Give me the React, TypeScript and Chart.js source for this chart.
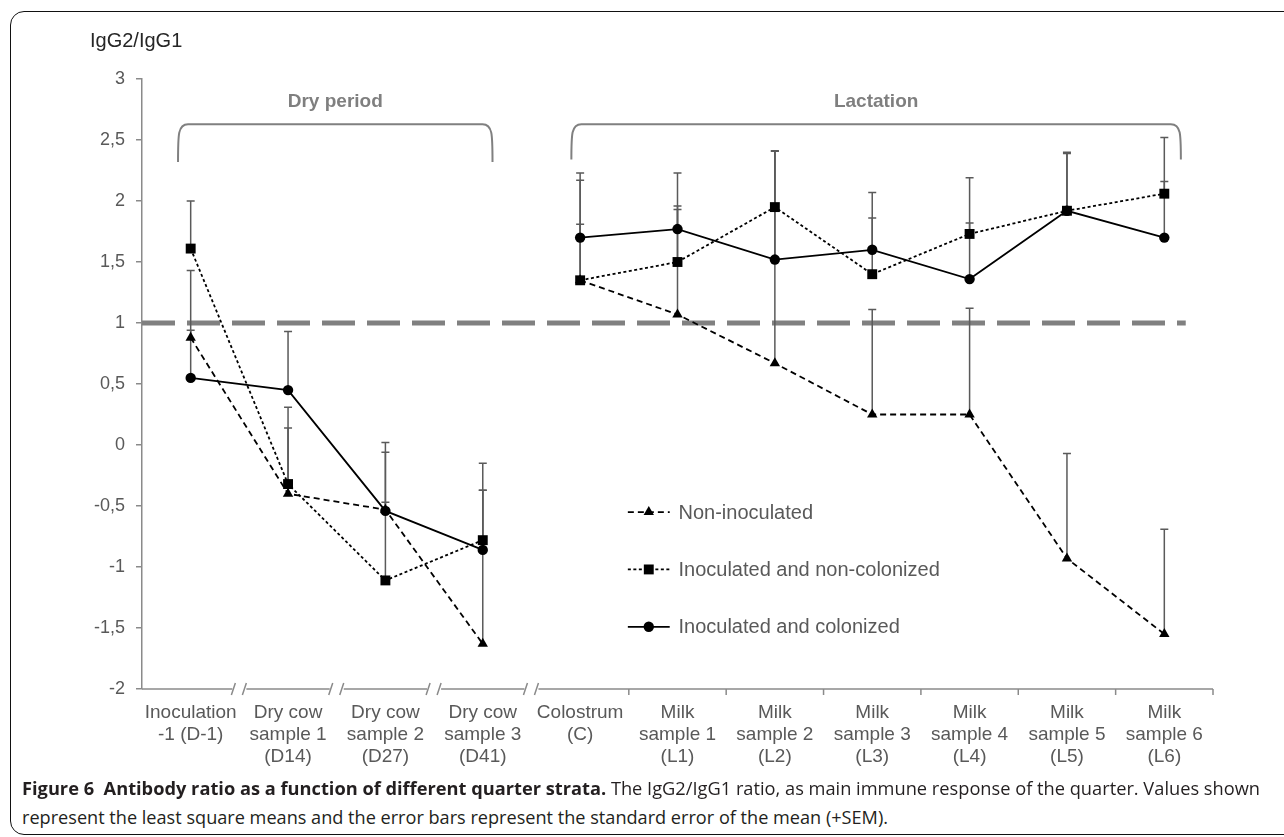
import React, { useEffect, useLayoutEffect, useRef } from "react";
import { Chart, registerables } from "chart.js";

Chart.register(...registerables);

// ---------- data ----------
const categories: string[][] = [
  ["Inoculation", "-1 (D-1)"],
  ["Dry cow", "sample 1", "(D14)"],
  ["Dry cow", "sample 2", "(D27)"],
  ["Dry cow", "sample 3", "(D41)"],
  ["Colostrum", "(C)"],
  ["Milk", "sample 1", "(L1)"],
  ["Milk", "sample 2", "(L2)"],
  ["Milk", "sample 3", "(L3)"],
  ["Milk", "sample 4", "(L4)"],
  ["Milk", "sample 5", "(L5)"],
  ["Milk", "sample 6", "(L6)"],
];

const seriesNames = ["Non-inoculated", "Inoculated and non-colonized", "Inoculated and colonized"];

const nonInoculated = [0.88, -0.4, -0.53, -1.63, 1.35, 1.07, 0.67, 0.25, 0.25, -0.93, -1.55];
const nonInoculatedTop = [1.43, 0.14, -0.06, -0.37, 2.17, 1.96, 2.41, 1.11, 1.12, -0.07, -0.69];

const inocNonColonized = [1.61, -0.32, -1.11, -0.78, 1.35, 1.5, 1.95, 1.4, 1.73, 1.92, 2.06];
const inocNonColonizedTop = [2.0, 0.31, -0.47, -0.15, 1.81, 1.93, 2.41, 1.86, 2.19, 2.4, 2.52];

const inocColonized = [0.55, 0.45, -0.54, -0.86, 1.7, 1.77, 1.52, 1.6, 1.36, 1.92, 1.7];
const inocColonizedTop = [0.94, 0.93, 0.02, -0.37, 2.23, 2.23, 2.41, 2.07, 1.82, 2.39, 2.16];

const yMin = -2;
const yMax = 3;
const yStep = 0.5;
const referenceValue = 1;
const breakAfterIndex = 3; // no line between D41 and Colostrum
const axisBreakBoundaries = [1, 2, 3, 4];

const periodLabels = ["Dry period", "Lactation"];
const periodFrom = [-0.13, 3.91];
const periodTo = [3.1, 10.17];

// ---------- styles ----------
const FONT = "'Liberation Sans', Arial, sans-serif";
const TICK_COLOR = "#595959";
const AXIS_COLOR = "#8a8a8a";
const ERR_COLOR = "#5a5a5a";
const pointStyles = ["triangle", "rect", "circle"];
const pointRadii = [6, 7, 5.2];
const dashes = [[6, 4], [3, 2.5], []];

const allTops = [nonInoculatedTop, inocNonColonizedTop, inocColonizedTop];

function drawMarker(ctx: CanvasRenderingContext2D, style: string, x: number, y: number, r: number) {
  ctx.beginPath();
  if (style === "triangle") {
    const a = (2 * Math.PI) / 3;
    ctx.moveTo(x, y - r);
    ctx.lineTo(x + Math.sin(a) * r, y - Math.cos(a) * r);
    ctx.lineTo(x + Math.sin(2 * a) * r, y - Math.cos(2 * a) * r);
    ctx.closePath();
  } else if (style === "rect") {
    const s = Math.SQRT1_2 * r;
    ctx.rect(x - s, y - s, 2 * s, 2 * s);
  } else {
    ctx.arc(x, y, r, 0, Math.PI * 2);
  }
  ctx.fill();
}

const overlayPlugin = {
  id: "overlay",
  beforeDatasetsDraw(chart: any) {
    const { ctx, chartArea, scales } = chart;
    const x = scales.x;
    const y = scales.y;
    // reference line at 1
    ctx.save();
    ctx.strokeStyle = "#808080";
    ctx.lineWidth = 5;
    ctx.setLineDash([33, 12]);
    const yr = y.getPixelForValue(referenceValue);
    ctx.beginPath();
    ctx.moveTo(chartArea.left, yr);
    ctx.lineTo(x.getPixelForValue(10.22), yr);
    ctx.stroke();
    ctx.restore();

    // error bars (+SEM)
    ctx.save();
    ctx.strokeStyle = ERR_COLOR;
    ctx.lineWidth = 1.5;
    chart.data.datasets.forEach((ds: any, di: number) => {
      const meta = chart.getDatasetMeta(di);
      const tops = allTops[di];
      meta.data.forEach((pt: any, i: number) => {
        const ty = y.getPixelForValue(tops[i]);
        ctx.beginPath();
        ctx.moveTo(pt.x, pt.y);
        ctx.lineTo(pt.x, ty);
        ctx.moveTo(pt.x - 4, ty);
        ctx.lineTo(pt.x + 4, ty);
        ctx.stroke();
      });
    });
    ctx.restore();
  },
  afterDraw(chart: any) {
    const { ctx, chartArea, scales } = chart;
    const x = scales.x;
    const y = scales.y;
    const yb = chartArea.bottom;

    // x axis line with breaks
    ctx.save();
    ctx.strokeStyle = AXIS_COLOR;
    ctx.lineWidth = 1.5;
    const n = categories.length;
    const bx = (k: number) => x.getPixelForValue(k - 0.5);
    let start = chartArea.left;
    for (let k = 1; k <= n; k++) {
      const p = bx(k);
      if (axisBreakBoundaries.includes(k)) {
        ctx.beginPath();
        ctx.moveTo(start, yb);
        ctx.lineTo(p - 7, yb);
        ctx.stroke();
        ctx.beginPath();
        ctx.moveTo(p - 8, yb + 6);
        ctx.lineTo(p - 4, yb - 6);
        ctx.moveTo(p + 3, yb + 6);
        ctx.lineTo(p + 7, yb - 6);
        ctx.stroke();
        start = p + 7;
      } else {
        ctx.beginPath();
        ctx.moveTo(p, yb);
        ctx.lineTo(p, yb + 6);
        ctx.stroke();
      }
    }
    ctx.beginPath();
    ctx.moveTo(start, yb);
    ctx.lineTo(chartArea.right, yb);
    ctx.stroke();
    ctx.restore();

    // period brackets
    ctx.save();
    ctx.strokeStyle = "#808080";
    ctx.lineWidth = 2;
    const bt = y.getPixelForValue(2.63);
    const bbs = [y.getPixelForValue(2.32), y.getPixelForValue(2.34)];
    periodLabels.forEach((lab, i) => {
      const l = x.getPixelForValue(periodFrom[i]);
      const r = x.getPixelForValue(periodTo[i]);
      const bb = bbs[i];
      const rad = 10;
      ctx.beginPath();
      ctx.moveTo(l, bb);
      ctx.bezierCurveTo(l, bt + rad, l, bt, l + rad, bt);
      ctx.lineTo(r - rad, bt);
      ctx.bezierCurveTo(r, bt, r, bt + rad, r, bb);
      ctx.stroke();
      ctx.fillStyle = "#7f7f7f";
      ctx.font = `bold 19px ${FONT}`;
      ctx.textAlign = "center";
      ctx.textBaseline = "middle";
      ctx.fillText(lab, (l + r) / 2, y.getPixelForValue(2.81));
    });
    ctx.restore();

    // y title
    ctx.save();
    ctx.fillStyle = "#262626";
    ctx.font = `20px ${FONT}`;
    ctx.textAlign = "left";
    ctx.textBaseline = "middle";
    ctx.fillText("IgG2/IgG1", 90, 41);
    ctx.restore();

    // legend
    ctx.save();
    const rowVals = [-0.55, -1.02, -1.49];
    const lx0 = x.getPixelForValue(4.49);
    const lx1 = x.getPixelForValue(4.92);
    const tx = x.getPixelForValue(5.01);
    seriesNames.forEach((name, i) => {
      const ry = y.getPixelForValue(rowVals[i]);
      ctx.strokeStyle = "#000";
      ctx.fillStyle = "#000";
      ctx.lineWidth = 1.8;
      ctx.setLineDash(dashes[i]);
      ctx.beginPath();
      ctx.moveTo(lx0, ry);
      ctx.lineTo(lx1, ry);
      ctx.stroke();
      ctx.setLineDash([]);
      drawMarker(ctx, pointStyles[i], (lx0 + lx1) / 2, ry, pointRadii[i]);
      ctx.fillStyle = TICK_COLOR;
      ctx.font = `20px ${FONT}`;
      ctx.textAlign = "left";
      ctx.textBaseline = "middle";
      ctx.fillText(name, tx, ry + 1);
    });
    ctx.restore();
  },
};

export default function App() {
  const canvasRef = useRef<HTMLCanvasElement>(null);
  const line1 = useRef<HTMLDivElement>(null);
  const line2 = useRef<HTMLDivElement>(null);

  useLayoutEffect(() => {
    const fit = (el: HTMLDivElement | null, target: number) => {
      if (!el) return;
      el.style.transform = "none";
      const w = el.getBoundingClientRect().width;
      if (w > 0) el.style.transform = `scaleX(${target / w})`;
    };
    fit(line1.current, 1238);
    fit(line2.current, 866);
  }, []);

  useEffect(() => {
    const canvas = canvasRef.current;
    if (!canvas) return;
    const values = [nonInoculated, inocNonColonized, inocColonized];
    const chart = new Chart(canvas, {
      type: "line",
      data: {
        labels: categories,
        datasets: values.map((v, i) => ({
          label: seriesNames[i],
          data: v,
          borderColor: "#000",
          backgroundColor: "#000",
          borderWidth: 1.8,
          borderDash: dashes[i],
          pointStyle: pointStyles[i] as any,
          pointRadius: pointRadii[i],
          pointBackgroundColor: "#000",
          pointBorderColor: "#000",
          pointBorderWidth: 0,
          tension: 0,
          fill: false,
          segment: {
            borderColor: (c: any) => (c.p0DataIndex === breakAfterIndex ? "rgba(0,0,0,0)" : undefined),
          },
        })),
      },
      options: {
        responsive: false,
        animation: false,
        events: [],
        layout: { padding: { left: 0, right: 71, top: 79, bottom: 0 } },
        plugins: {
          legend: { display: false },
          tooltip: { enabled: false },
          title: { display: false },
        },
        scales: {
          x: {
            type: "category",
            offset: true,
            grid: { display: false, drawTicks: false },
            border: { display: false },
            ticks: {
              color: TICK_COLOR,
              font: { size: 19, family: FONT, lineHeight: 22 / 19 },
              padding: 13,
              maxRotation: 0,
              minRotation: 0,
              autoSkip: false,
            },
            afterFit: (s: any) => {
              s.height = 86;
            },
          },
          y: {
            min: yMin,
            max: yMax,
            grid: {
              display: true,
              drawOnChartArea: false,
              drawTicks: true,
              tickLength: 6,
              color: AXIS_COLOR,
              lineWidth: 1.5,
            },
            border: { display: true, color: AXIS_COLOR, width: 1.5 },
            ticks: {
              stepSize: yStep,
              color: TICK_COLOR,
              font: { size: 18, family: FONT },
              padding: 11,
              callback: (v: any) => String(v).replace(".", ","),
            },
            afterFit: (s: any) => {
              s.width = 142;
            },
          },
        },
      },
      plugins: [overlayPlugin],
    });
    return () => chart.destroy();
  }, []);

  const captionStyle: React.CSSProperties = {
    position: "absolute",
    left: 22,
    whiteSpace: "nowrap",
    fontFamily: "'Open Sans', 'Noto Sans', sans-serif",
    fontSize: 18,
    lineHeight: "28px",
    color: "#231f20",
    transformOrigin: "0 0",
  };

  return (
    <div
      style={{
        position: "absolute",
        left: 0,
        top: 0,
        width: 1284,
        height: 837,
        overflow: "hidden",
        background: "#fff",
      }}
    >
      <div
        style={{
          position: "absolute",
          left: 10,
          top: 11,
          width: 1330,
          height: 822,
          border: "1.5px solid #111",
          borderRadius: 14,
        }}
      />
      <canvas ref={canvasRef} width={1284} height={775} style={{ position: "absolute", left: 0, top: 0 }} />
      <div ref={line1} style={{ ...captionStyle, top: 774 }}>
        <b>Figure 6&nbsp;&nbsp;Antibody ratio as a function of different quarter strata.</b> The IgG2/IgG1 ratio,
        as main immune response of the quarter. Values shown
      </div>
      <div ref={line2} style={{ ...captionStyle, top: 803 }}>
        represent the least square means and the error bars represent the standard error of the mean (+SEM).
      </div>
    </div>
  );
}
